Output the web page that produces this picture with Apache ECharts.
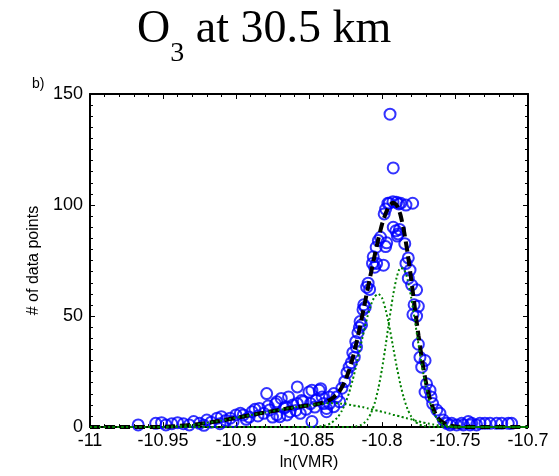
<!DOCTYPE html>
<html>
<head>
<meta charset="utf-8">
<script src="https://cdn.jsdelivr.net/npm/echarts@6/dist/echarts.min.js"></script>
<style>
  html, body { margin: 0; padding: 0; background: #fff; }
  #main { width: 559px; height: 476px; }
</style>
</head>
<body>
<div id="main"></div>
<script>
var curveX = [-11.00, -10.99, -10.98, -10.97, -10.96, -10.95, -10.94, -10.93, -10.92, -10.91,
  -10.90, -10.89, -10.88, -10.87, -10.86, -10.855, -10.85, -10.845, -10.84, -10.835,
  -10.83, -10.8275, -10.825, -10.8225, -10.82, -10.8175, -10.815, -10.8125, -10.81, -10.8075,
  -10.805, -10.8025, -10.80, -10.7975, -10.795, -10.7925, -10.79, -10.7875, -10.785, -10.7825,
  -10.78, -10.7775, -10.775, -10.7725, -10.77, -10.7675, -10.765, -10.7625, -10.76, -10.755,
  -10.75, -10.745, -10.74, -10.73, -10.72, -10.71, -10.70];

// total fit (black dashed)
var fitY = [0, 0, 0, 0, 0, 0.1, 0.5, 1.0, 1.9, 2.9,
  4.2, 5.4, 6.6, 7.8, 8.9, 9.4, 9.8, 10.3, 11.1, 12.5,
  15.4, 17.9, 21.2, 25.8, 31.3, 38.0, 45.5, 53.5, 61.6, 69.6,
  77.3, 84.7, 91.3, 96.2, 99.7, 101.0, 100.0, 95.9, 88.5, 78.5,
  66.6, 53.6, 41.2, 29.9, 20.5, 13.4, 8.4, 4.9, 2.9, 0.9,
  0.3, 0.1, 0, 0, 0, 0, 0];

// broad component (green dotted)
var broadY = [0, 0, 0, 0, 0, 0.1, 0.5, 1.0, 1.9, 2.9,
  4.2, 5.4, 6.6, 7.8, 8.9, 9.4, 9.8, 10.2, 10.6, 10.8,
  10.7, 10.5, 10.3, 10.1, 9.8, 9.5, 9.2, 8.9, 8.5, 8.1,
  7.7, 7.3, 6.9, 6.5, 6.1, 5.6, 5.2, 4.8, 4.3, 3.9,
  3.5, 3.0, 2.6, 2.2, 1.8, 1.5, 1.2, 0.9, 0.7, 0.4,
  0.2, 0.1, 0, 0, 0, 0, 0];

// middle component
var midY = [0, 0, 0, 0, 0, 0, 0, 0, 0, 0,
  0, 0, 0, 0, 0, 0, 0.03, 0.14, 0.53, 1.72,
  4.7, 7.35, 10.9, 15.6, 21.4, 28.1, 35.5, 42.9, 49.7, 55.2,
  58.8, 60, 58.2, 52.9, 45.3, 36.4, 27.5, 19.5, 13.0, 8.1,
  4.8, 2.6, 1.4, 0.67, 0.31, 0.13, 0.05, 0.02, 0, 0,
  0, 0, 0, 0, 0, 0, 0];

// right (peak) component
var peakY = [0, 0, 0, 0, 0, 0, 0, 0, 0, 0,
  0, 0, 0, 0, 0, 0, 0, 0, 0, 0,
  0, 0, 0.02, 0.06, 0.14, 0.35, 0.8, 1.7, 3.4, 6.3,
  10.8, 17.4, 26.2, 36.8, 48.3, 59.0, 67.3, 71.6, 71.2, 66.5,
  58.3, 48.0, 37.2, 27.0, 18.4, 11.8, 7.1, 4.0, 2.2, 0.5,
  0.09, 0, 0, 0, 0, 0, 0];

// histogram points (blue circles)
var pointX = [-10.967, -10.955, -10.951, -10.948, -10.944, -10.940, -10.936, -10.932, -10.929, -10.925,
  -10.922, -10.920, -10.917, -10.913, -10.911, -10.910, -10.907, -10.904, -10.902, -10.900,
  -10.897, -10.895, -10.893, -10.891, -10.889, -10.887, -10.885, -10.884, -10.881, -10.879,
  -10.878, -10.877, -10.875, -10.873, -10.872, -10.872, -10.870, -10.869, -10.867, -10.866,
  -10.865, -10.864, -10.863, -10.861, -10.859, -10.858, -10.858, -10.856, -10.855, -10.854,
  -10.852, -10.850, -10.849, -10.848, -10.848, -10.846, -10.845, -10.843, -10.842, -10.841,
  -10.840, -10.838, -10.838, -10.836, -10.836, -10.833, -10.833, -10.831, -10.829, -10.8275,
  -10.8255, -10.8240, -10.8225, -10.8210, -10.8200, -10.8190, -10.8180, -10.8175, -10.8165, -10.8155,
  -10.8150, -10.8140, -10.8130, -10.8125, -10.8115, -10.8105, -10.8095, -10.8085, -10.8065, -10.8060,
  -10.8050, -10.8040, -10.8037, -10.8025, -10.8010, -10.7990, -10.7975, -10.7968, -10.7985, -10.7975,
  -10.7960, -10.7950, -10.7945, -10.7925, -10.7923, -10.7923, -10.7905, -10.7900, -10.7895, -10.7890,
  -10.7885, -10.7880, -10.7872, -10.7844, -10.7836, -10.7836, -10.7820, -10.7820, -10.7808, -10.7797,
  -10.7790, -10.7788, -10.7780, -10.7763, -10.7763, -10.7751, -10.7751, -10.7740, -10.7728, -10.7705,
  -10.7705, -10.7695, -10.7671, -10.7664, -10.7653, -10.7625, -10.7603, -10.7580, -10.7557, -10.7534,
  -10.7523, -10.7489, -10.7454, -10.7443, -10.7409, -10.7397, -10.7386, -10.7352, -10.7329, -10.7295,
  -10.7260, -10.7215, -10.7180, -10.7135, -10.7112];
var pointY = [1.0, 1.7, 2.0, 1.0, 1.5, 2.0, 1.5, 1.0, 2.5, 1.7,
  0.8, 3.2, 2.2, 4.0, 1.5, 4.7, 3.0, 4.0, 2.5, 5.5,
  6.2, 5.5, 3.5, 4.5, 6.9, 8.0, 5.0, 8.4, 6.2, 15.1,
  9.5, 7.7, 4.5, 10.5, 5.5, 11.4, 4.7, 12.9, 8.5, 9.2,
  5.5, 13.6, 6.9, 10.0, 7.5, 10.6, 18.1, 6.2, 12.0, 11.4,
  8.0, 15.8, 10.6, 2.5, 16.6, 9.0, 12.1, 16.6, 17.3, 13.6,
  10.6, 8.4, 6.9, 10.6, 13.6, 15.1, 9.2, 13.6, 11.4, 17.5,
  20.5, 24.5, 27.0, 29.0, 33.5, 31.5, 38.5, 36.0, 42.5, 44.8,
  47.5, 46.0, 52.9, 55.1, 54.0, 63.0, 64.8, 62.0, 73.7, 76.7,
  72.0, 81.0, 73.7, 84.0, 85.5, 72.9, 81.3, 83.0, 96.0, 98.2,
  100.8, 100.8, 140.9, 101.5, 116.7, 90.0, 88.4, 101.2, 86.0, 87.0,
  100.5, 89.0, 100.8, 82.6, 100.0, 73.7, 76.2, 67.0, 70.7, 64.0,
  100.8, 50.7, 55.1, 61.8, 50.0, 54.4, 37.3, 31.4, 27.0, 30.0,
  15.8, 19.5, 16.6, 13.6, 10.6, 7.7, 6.2, 3.2, 1.7, 1.0,
  1.7, 1.0, 1.7, 1.0, 2.5, 1.0, 1.7, 1.0, 1.7, 1.7,
  1.7, 1.7, 1.7, 1.7, 1.7];

var xTicks = { min: -11, max: -10.7, step: 0.05 };
var yTicks = { min: 0, max: 150, step: 50 };

function pairs(xs, ys) {
  return xs.map(function (x, i) { return [x, ys[i]]; });
}

var myChart = echarts.init(document.getElementById('main'));

var sans = 'Liberation Sans, Arial, sans-serif';
var serif = 'Liberation Serif, Times New Roman, serif';
var axisBase = {
  type: 'value',
  axisLine: { show: true, onZero: false, lineStyle: { color: '#000', width: 2 } },
  axisTick: { show: true, inside: true, length: 5, lineStyle: { color: '#000', width: 1 } },
  minorTick: { show: true, length: 3, lineStyle: { color: '#000', width: 1 } },
  splitLine: { show: false },
  minorSplitLine: { show: false }
};

function axis(extra) {
  return Object.assign({}, JSON.parse(JSON.stringify(axisBase)), extra);
}

var option = {
  backgroundColor: '#fff',
  animation: false,
  title: {
    text: '{a|O}{s|3}{a| at 30.5 km}',
    left: 137,
    top: -8,
    padding: 0,
    textStyle: {
      fontWeight: 'normal',
      rich: {
        a: { fontFamily: serif, fontWeight: 'normal', fontSize: 46, lineHeight: 76, color: '#000' },
        s: { fontFamily: serif, fontWeight: 'normal', fontSize: 28, lineHeight: 28, verticalAlign: 'bottom', color: '#000' }
      }
    }
  },
  graphic: [{
    type: 'text',
    left: 32,
    top: 77,
    style: { text: 'b)', fontFamily: sans, fontSize: 14, fill: '#000' }
  }],
  grid: { left: 90, right: 31, top: 94, bottom: 45 },
  xAxis: [
    axis({
      min: xTicks.min, max: xTicks.max, interval: xTicks.step,
      minorTick: { show: true, splitNumber: 5, length: 3, lineStyle: { color: '#000' } },
      name: 'ln(VMR)', nameLocation: 'middle', nameGap: 25,
      nameTextStyle: { fontFamily: sans, fontSize: 16, color: '#000' },
      axisLabel: { fontFamily: sans, fontSize: 18, color: '#000', margin: 5 }
    }),
    axis({
      position: 'top',
      min: xTicks.min, max: xTicks.max, interval: xTicks.step,
      minorTick: { show: true, splitNumber: 5, length: 3, lineStyle: { color: '#000' } },
      axisLabel: { show: false }
    })
  ],
  yAxis: [
    axis({
      min: yTicks.min, max: yTicks.max, interval: yTicks.step,
      minorTick: { show: true, splitNumber: 10, length: 3, lineStyle: { color: '#000' } },
      name: '# of data points', nameLocation: 'middle', nameGap: 47,
      nameTextStyle: { fontFamily: sans, fontSize: 16, color: '#000' },
      axisLabel: { fontFamily: sans, fontSize: 18, color: '#000', margin: 7 }
    }),
    axis({
      position: 'right',
      min: yTicks.min, max: yTicks.max, interval: yTicks.step,
      minorTick: { show: true, splitNumber: 10, length: 3, lineStyle: { color: '#000' } },
      axisLabel: { show: false }
    })
  ],
  series: [
    {
      name: 'data',
      type: 'scatter',
      data: pairs(pointX, pointY),
      symbol: 'circle',
      symbolSize: 11,
      itemStyle: { color: 'rgba(0,0,0,0)', borderColor: '#0000ff', borderWidth: 2 },
      z: 2
    },
    {
      name: 'fit',
      type: 'line',
      data: pairs(curveX, fitY),
      showSymbol: false,
      smooth: 0.2,
      lineStyle: { color: '#000', width: 4, type: [10, 5] },
      z: 3
    },
    {
      name: 'broad',
      type: 'line',
      data: pairs(curveX, broadY),
      showSymbol: false,
      smooth: 0.2,
      lineStyle: { color: '#008000', width: 2, type: [2, 2.5] },
      z: 4
    },
    {
      name: 'middle',
      type: 'line',
      data: pairs(curveX, midY),
      showSymbol: false,
      smooth: 0.2,
      lineStyle: { color: '#008000', width: 2, type: [2, 2.5] },
      z: 4
    },
    {
      name: 'peak',
      type: 'line',
      data: pairs(curveX, peakY),
      showSymbol: false,
      smooth: 0.2,
      lineStyle: { color: '#008000', width: 2, type: [2, 2.5] },
      z: 4
    }
  ]
};

myChart.setOption(option);
</script>
</body>
</html>
